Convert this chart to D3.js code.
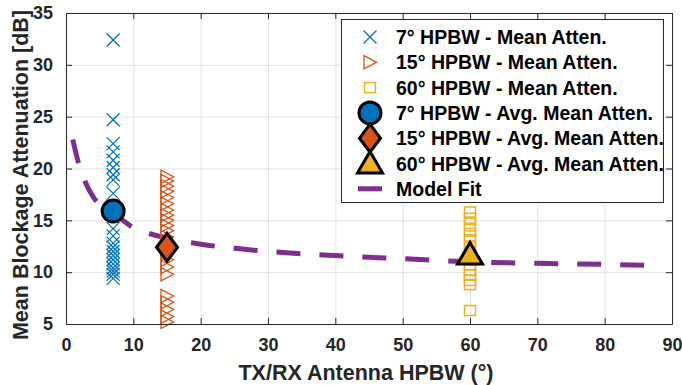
<!DOCTYPE html>
<html>
<head>
<meta charset="utf-8">
<script src="https://cdn.jsdelivr.net/npm/d3@7"></script>
<style>
  body { margin: 0; background: #fff; }
  svg { display: block; font-family: 'Liberation Sans', Arial, sans-serif; }
</style>
</head>
<body>
<svg id="chart" width="682" height="385"></svg>
<script>
const hpbw7 = [32.4, 24.7, 22.4, 21.6, 20.8, 20.1, 19.4, 18.9, 17.6, 16.0,
  14.2, 13.5, 12.8, 12.4, 12.0, 11.6, 11.2, 10.8, 10.4, 10.1, 9.8, 9.4];
const hpbw15 = [19.2, 18.8, 18.3, 17.8, 17.2, 16.6, 16.0, 15.5, 15.0, 14.5, 14.0,
  13.4, 12.8, 12.3, 11.8, 11.2, 10.5, 9.8, 7.7, 7.1, 6.4, 5.7, 5.2];
const hpbw60 = [15.8, 15.2, 14.7, 14.1, 13.5, 13.0, 12.4, 11.8, 11.2, 10.7,
  10.2, 9.7, 9.2, 8.8, 6.3];

const avgX = [7, 15, 60];
const avgY = [15.9, 12.4, 11.7];

const fitX = [1, 2, 3, 4, 5, 6, 7, 8, 10, 12, 15, 20, 25, 30, 40, 50, 60, 70, 80, 87];
const fitY = [22.8, 20.2, 18.5, 17.3, 16.5, 16.0, 15.6, 15.2, 14.3, 13.8, 13.3,
  12.7, 12.3, 12.0, 11.6, 11.3, 11.0, 10.85, 10.75, 10.65];

const xTicks = [0, 10, 20, 30, 40, 50, 60, 70, 80, 90];
const yTicks = [5, 10, 15, 20, 25, 30, 35];

const legendLabels = [
  '7° HPBW - Mean Atten.',
  '15° HPBW - Mean Atten.',
  '60° HPBW - Mean Atten.',
  '7° HPBW - Avg. Mean Atten.',
  '15° HPBW - Avg. Mean Atten.',
  '60° HPBW - Avg. Mean Atten.',
  'Model Fit'
];

const BLUE = '#0072BD', ORANGE = '#D95319', YELLOW = '#EDB120', PURPLE = '#7E2F8E';
const AX = '#262626';
const M = { left: 66, right: 672, top: 13, bottom: 324 };

const svg = d3.select('#chart');
const x = d3.scaleLinear().domain([0, 90]).range([M.left, M.right]);
const y = d3.scaleLinear().domain([5, 35]).range([M.bottom, M.top]);
const W = M.right - M.left, H = M.bottom - M.top;

// grid
svg.append('g')
  .attr('transform', `translate(0,${M.bottom})`)
  .call(d3.axisBottom(x).tickValues(xTicks).tickSize(-H).tickFormat(''))
  .call(s => s.select('.domain').remove())
  .call(s => s.selectAll('line').attr('stroke', '#e3e3e3').attr('stroke-width', 1));
svg.append('g')
  .attr('transform', `translate(${M.left},0)`)
  .call(d3.axisLeft(y).tickValues(yTicks).tickSize(-W).tickFormat(''))
  .call(s => s.select('.domain').remove())
  .call(s => s.selectAll('line').attr('stroke', '#e3e3e3').attr('stroke-width', 1));

const plot = svg.append('g');

// model fit
plot.append('path')
  .datum(fitX.map((v, i) => [v, fitY[i]]))
  .attr('fill', 'none')
  .attr('stroke', PURPLE)
  .attr('stroke-width', 5)
  .attr('stroke-dasharray', '24 19')
  .attr('d', d3.line().x(d => x(d[0])).y(d => y(d[1])).curve(d3.curveMonotoneX));

// 7 deg crosses
const crossPath = (cx, cy, r) => `M${cx - r},${cy - r}L${cx + r},${cy + r}M${cx - r},${cy + r}L${cx + r},${cy - r}`;
plot.append('g').selectAll('path').data(hpbw7).join('path')
  .attr('d', d => crossPath(x(7), y(d), 6.5))
  .attr('stroke', BLUE).attr('stroke-width', 1.3).attr('fill', 'none');

// 15 deg right-pointing triangles
const triRight = (cx, cy, s) => `M${cx - s * 0.5},${cy - s * 0.55}L${cx + s * 0.55},${cy}L${cx - s * 0.5},${cy + s * 0.55}Z`;
plot.append('g').selectAll('path').data(hpbw15).join('path')
  .attr('d', d => triRight(x(15), y(d), 12))
  .attr('stroke', ORANGE).attr('stroke-width', 1.3).attr('fill', 'none');

// 60 deg squares
plot.append('g').selectAll('rect').data(hpbw60).join('rect')
  .attr('x', x(60) - 5.5).attr('y', d => y(d) - 5).attr('width', 11).attr('height', 10)
  .attr('stroke', YELLOW).attr('stroke-width', 1.5).attr('fill', 'none');

// average markers
function circleMark(g, cx, cy) {
  g.append('circle').attr('cx', cx).attr('cy', cy).attr('r', 11)
    .attr('fill', BLUE).attr('stroke', '#000').attr('stroke-width', 3);
}
function diamondMark(g, cx, cy) {
  g.append('path')
    .attr('d', `M${cx},${cy - 14}L${cx + 10.5},${cy}L${cx},${cy + 14}L${cx - 10.5},${cy}Z`)
    .attr('fill', ORANGE).attr('stroke', '#000').attr('stroke-width', 3).attr('stroke-linejoin', 'miter');
}
function triUpMark(g, cx, cy) {
  g.append('path')
    .attr('d', `M${cx},${cy - 12}L${cx + 12.5},${cy + 9.5}L${cx - 12.5},${cy + 9.5}Z`)
    .attr('fill', YELLOW).attr('stroke', '#000').attr('stroke-width', 3).attr('stroke-linejoin', 'miter');
}
const avgDrawers = [circleMark, diamondMark, triUpMark];
avgX.forEach((v, i) => avgDrawers[i](plot, x(v), y(avgY[i])));

// axes box with inward ticks on all sides
const axStyle = s => {
  s.select('.domain').attr('stroke', AX).attr('stroke-width', 1);
  s.selectAll('.tick line').attr('stroke', AX);
  s.selectAll('.tick text').attr('fill', AX).attr('font-size', '18px').attr('font-weight', 'bold');
};
svg.append('g').attr('transform', `translate(0,${M.bottom})`)
  .call(d3.axisBottom(x).tickValues(xTicks).tickSizeInner(-6).tickSizeOuter(0).tickPadding(14))
  .call(axStyle);
svg.append('g').attr('transform', `translate(0,${M.top})`)
  .call(d3.axisTop(x).tickValues(xTicks).tickSizeInner(-6).tickSizeOuter(0).tickFormat(''))
  .call(axStyle);
svg.append('g').attr('transform', `translate(${M.left},0)`)
  .call(d3.axisLeft(y).tickValues(yTicks).tickSizeInner(-6).tickSizeOuter(0).tickPadding(13))
  .call(axStyle);
svg.append('g').attr('transform', `translate(${M.right},0)`)
  .call(d3.axisRight(y).tickValues(yTicks).tickSizeInner(-6).tickSizeOuter(0).tickFormat(''))
  .call(axStyle);

// axis titles
svg.append('text')
  .attr('x', 366).attr('y', 380)
  .attr('text-anchor', 'middle').attr('font-size', '21.5px').attr('font-weight', 'bold').attr('fill', AX)
  .text('TX/RX Antenna HPBW (°)');
svg.append('text')
  .attr('transform', `translate(28,175) rotate(-90)`)
  .attr('text-anchor', 'middle').attr('font-size', '21.5px').attr('font-weight', 'bold').attr('fill', AX)
  .text('Mean Blockage Attenuation [dB]');

// legend
const lg = svg.append('g');
lg.append('rect').attr('x', 341.5).attr('y', 19.5).attr('width', 322).attr('height', 183)
  .attr('fill', '#fff').attr('stroke', AX).attr('stroke-width', 1);
const rowY = i => 37 + i * 25.3;
const sx = 370;
lg.append('path').attr('d', crossPath(sx, rowY(0), 6.5)).attr('stroke', BLUE).attr('stroke-width', 1.3);
lg.append('path').attr('d', triRight(sx, rowY(1), 12)).attr('stroke', ORANGE).attr('stroke-width', 1.3).attr('fill', 'none');
lg.append('rect').attr('x', sx - 5.5).attr('y', rowY(2) - 5).attr('width', 11).attr('height', 10)
  .attr('stroke', YELLOW).attr('stroke-width', 1.5).attr('fill', 'none');
avgDrawers.forEach((f, i) => f(lg, sx, rowY(3 + i)));
lg.append('line').attr('x1', sx - 12).attr('x2', sx + 12).attr('y1', rowY(6)).attr('y2', rowY(6))
  .attr('stroke', PURPLE).attr('stroke-width', 5);
lg.selectAll('text.lbl').data(legendLabels).join('text')
  .attr('class', 'lbl')
  .attr('x', 396).attr('y', (d, i) => rowY(i) + 7)
  .attr('font-size', '19.5px').attr('font-weight', 'bold').attr('fill', '#000')
  .text(d => d);
</script>
</body>
</html>
